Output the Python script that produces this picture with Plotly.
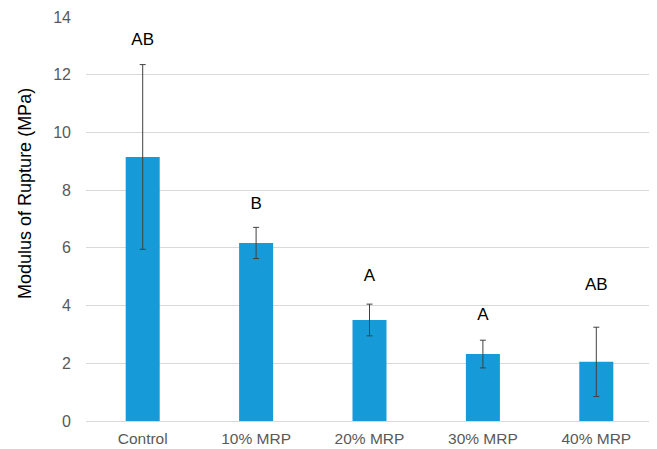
import plotly.graph_objects as go

categories = ["Control", "10% MRP", "20% MRP", "30% MRP", "40% MRP"]
means = [9.15, 6.17, 3.5, 2.32, 2.05]
errors = [3.2, 0.54, 0.55, 0.48, 1.2]
letters = ["AB", "B", "A", "A", "AB"]
letter_y = [13.17, 7.48, 4.99, 3.64, 4.68]
y_ticks = [0, 2, 4, 6, 8, 10, 12, 14]
y_title = "Modulus of Rupture (MPa)"

fig = go.Figure()
fig.add_trace(go.Bar(
    x=categories, y=means,
    marker=dict(color="#169bd8", line=dict(width=0)),
    error_y=dict(type="data", array=errors, visible=True, color="#404040", thickness=1, width=3),
    width=0.3,
))
fig.add_trace(go.Scatter(
    x=categories, y=letter_y, mode="text", text=letters,
    textfont=dict(family="Liberation Sans, Arial", size=17, color="#000000"),
    hoverinfo="skip",
))
# page body has an 8px default margin, so margins compensate for it
fig.update_layout(
    width=657, height=449,
    margin=dict(l=78, r=12, t=9, b=36),
    paper_bgcolor="#ffffff", plot_bgcolor="#ffffff",
    showlegend=False,
    font=dict(family="Liberation Sans, Arial", size=16, color="#595959"),
)
fig.add_annotation(
    text=y_title, textangle=-90, xref="paper", yref="paper", x=0, y=0.562,
    xanchor="center", yanchor="middle", xshift=-61, showarrow=False,
    font=dict(family="Liberation Sans, Arial", size=18, color="#000000"),
)
fig.update_xaxes(showgrid=False, showline=False, ticks="", automargin=False,
                 ticklabelstandoff=6, tickfont=dict(size=15.5, color="#595959"))
fig.update_yaxes(
    range=[0, 14], tickvals=y_ticks, showgrid=True, gridcolor="#d9d9d9", gridwidth=1,
    zeroline=True, zerolinecolor="#d9d9d9", zerolinewidth=1, automargin=False,
    tickfont=dict(size=16, color="#595959"), ticks="", ticklabelstandoff=14,
)
fig.write_html("out.html")
